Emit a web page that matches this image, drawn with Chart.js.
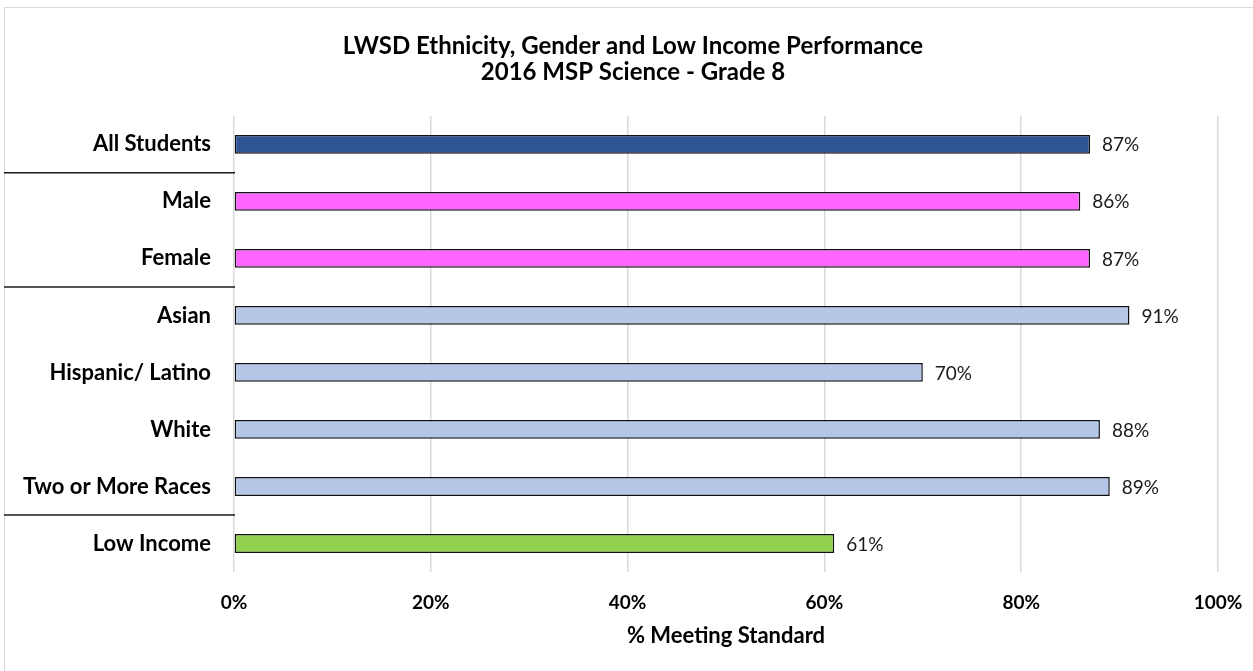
<!DOCTYPE html>
<html>
<head>
<meta charset="utf-8">
<script src="https://cdn.jsdelivr.net/npm/chart.js@4.4.0/dist/chart.umd.min.js"></script>
<style>
  html, body { margin: 0; padding: 0; background: #fff; overflow: hidden; }
  #frame { position: absolute; left: 4px; top: 7px; width: 1300px; height: 700px; border: 1px solid #d9d9d9; }
  #wrap { position: absolute; left: 0; top: 0; width: 1266px; height: 671px; }
</style>
</head>
<body>
<div id="frame"></div>
<div id="wrap"><canvas id="myChart"></canvas></div>
<script>
var categorias = ['All Students', 'Male', 'Female', 'Asian', 'Hispanic/ Latino', 'White', 'Two or More Races', 'Low Income']
var valores = [87, 86, 87, 91, 70, 88, 89, 61]
var cores = ['#2f5597', '#ff66ff', '#ff66ff', '#b4c7e7', '#b4c7e7', '#b4c7e7', '#b4c7e7', '#92d050']
var separadores = [0, 2, 6] // linha depois destas categorias
var ticksX = [0, 20, 40, 60, 80, 100]

var fonte = 'Lato'

// rotulos de valor na ponta das barras
const rotulos = {
    id: 'rotulos',
    afterDatasetsDraw(chart) {
        const ctx = chart.ctx
        const meta = chart.getDatasetMeta(0)
        ctx.save()
        ctx.font = '19px ' + fonte
        ctx.fillStyle = '#1a1a1a'
        ctx.textAlign = 'left'
        ctx.textBaseline = 'middle'
        meta.data.forEach(function (bar, i) {
            ctx.fillText(valores[i] + '%', bar.x + 12, bar.y + 1)
        })
        ctx.restore()
    }
}

// linhas separando os grupos de categorias
const grupos = {
    id: 'grupos',
    afterDraw(chart) {
        const ctx = chart.ctx
        const y = chart.scales.y
        ctx.save()
        ctx.strokeStyle = '#1a1a1a'
        ctx.lineWidth = 1.5
        separadores.forEach(function (i) {
            const py = (y.getPixelForValue(i) + y.getPixelForValue(i + 1)) / 2
            ctx.beginPath()
            ctx.moveTo(4, py)
            ctx.lineTo(chart.chartArea.left + 1, py)
            ctx.stroke()
        })
        ctx.restore()
    }
}

const ctx = document.getElementById('myChart').getContext('2d')
const myChart = new Chart(ctx, {
    type: 'bar',
    data: {
        labels: categorias,
        datasets: [{
            data: valores,
            backgroundColor: cores,
            borderColor: '#111',
            borderWidth: 1.5,
            borderSkipped: false,
            barPercentage: 0.33,
            categoryPercentage: 1
        }]
    },
    options: {
        indexAxis: 'y',
        responsive: true,
        maintainAspectRatio: false,
        animation: false,
        layout: { padding: { left: 0, right: 0, top: 0, bottom: 0 } },
        plugins: {
            legend: { display: false },
            tooltip: { enabled: false },
            title: {
                display: true,
                text: ['LWSD Ethnicity, Gender and Low Income Performance', '2016 MSP Science - Grade 8'],
                color: '#000',
                font: { family: fonte, size: 24, weight: 'bold', lineHeight: 1.08 },
                padding: { top: 33, bottom: 31 }
            }
        },
        scales: {
            x: {
                min: 0,
                max: 100,
                afterBuildTicks(scale) {
                    scale.ticks = ticksX.map(function (v) { return { value: v } })
                },
                afterFit(scale) {
                    scale.height = 99
                    scale.paddingLeft = 0
                    scale.paddingRight = 48 // espaço à direita da área do gráfico
                },
                grid: { color: '#d9d9d9', lineWidth: 1.5, drawTicks: false },
                border: { display: false },
                ticks: {
                    padding: 19.6,
                    color: '#000',
                    font: { family: fonte, size: 19, weight: 'bold' },
                    callback: function (v) { return v + '%' }
                },
                title: {
                    display: true,
                    text: '% Meeting Standard',
                    color: '#000',
                    font: { family: fonte, size: 22, weight: 'bold' },
                    padding: { top: 8, bottom: 21.8 }
                }
            },
            y: {
                afterFit(scale) {
                    scale.width = 234
                    scale.paddingTop = 0
                    scale.paddingBottom = 0
                },
                grid: { display: false, drawTicks: false },
                border: { display: false },
                ticks: {
                    padding: 23,
                    color: '#000',
                    font: { family: fonte, size: 22, weight: 'bold' }
                }
            }
        }
    },
    plugins: [rotulos, grupos]
})
</script>
</body>
</html>
